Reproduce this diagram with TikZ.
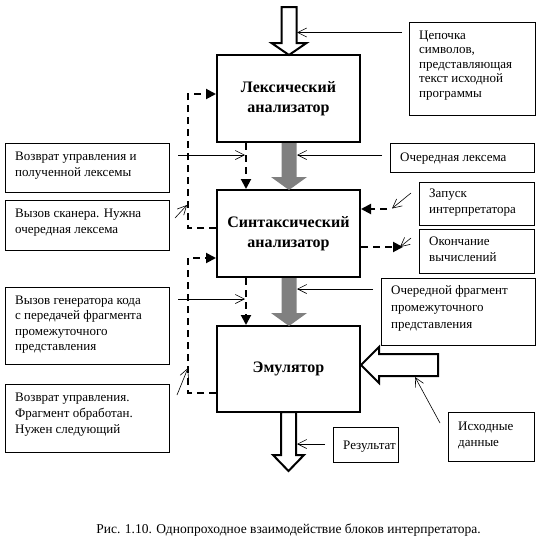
\documentclass[tikz,border=0pt]{standalone}
\usepackage{fontspec}
\setmainfont{Liberation Serif}
\usetikzlibrary{arrows.meta}
\definecolor{arrgray}{RGB}{128,128,128}
\begin{document}
\begin{tikzpicture}[x=1pt,y=-1pt,
  tframe/.style={draw, line width=0.8pt, anchor=north west, inner sep=0pt},
  ttext/.style={anchor=north west, align=left, inner sep=0pt,
    font=\fontsize{13}{16}\selectfont},
  bbox/.style={draw, line width=2pt, align=center,
    font=\bfseries\fontsize{16}{20}\selectfont},
  ptr/.style={line width=0.6pt, -{Straight Barb[length=9pt,width=9pt]}},
  dsh/.style={line width=2pt, dash pattern=on 7pt off 5pt,
    -{Triangle[length=10pt,width=10pt]}},
  hollow/.style={draw, line width=2pt, fill=white, line join=miter},
  grayarr/.style={fill=arrgray}
]
\useasboundingbox (0,0) rectangle (544,557);
\fill[white] (0,0) rectangle (544,557);

% main blocks
\node[bbox, minimum width=143pt, minimum height=87pt] (lex) at (288.5,98.5) {Лексический\\анализатор};
\node[bbox, minimum width=143pt, minimum height=87pt] (synt) at (288.5,233.5) {Синтаксический\\анализатор};
\node[bbox, minimum width=143pt, minimum height=86pt] (emu) at (288.5,369) {Эмулятор};

% hollow and gray arrows
\draw[hollow] (281.5,7) -- (296.5,7) -- (296.5,43) -- (306.5,43) -- (289,55) -- (271.5,43) -- (281.5,43) -- cycle;
\fill[grayarr] (281.5,143) -- (296.5,143) -- (296.5,177) -- (307,177) -- (289,190) -- (271,177) -- (281.5,177) -- cycle;
\fill[grayarr] (281.5,278) -- (296.5,278) -- (296.5,313) -- (307,313) -- (289,326) -- (271,313) -- (281.5,313) -- cycle;
\draw[hollow] (281,412) -- (296,412) -- (296,455) -- (304,455) -- (288.5,471) -- (273,455) -- (281,455) -- cycle;
\draw[hollow] (361,365) -- (379,347) -- (379,354) -- (438,354) -- (438,376) -- (379,376) -- (379,383) -- cycle;

% text boxes left
\node[tframe, minimum width=164pt, minimum height=49pt] (n1) at (5,143) {};
\node[ttext] (n1t) at ([shift={(10,5.8)}]n1.north west) {\strut Возврат управления и\\полученной лексемы};
\node[tframe, minimum width=164pt, minimum height=50pt] (n2) at (5,200) {};
\node[ttext] (n2t) at ([shift={(10,5.8)}]n2.north west) {\strut Вызов сканера. Нужна\\очередная лексема};
\node[tframe, minimum width=164pt, minimum height=77pt] (n3) at (5,287) {};
\node[ttext, font=\fontsize{13}{15.5}\selectfont] (n3t) at ([shift={(10,6)}]n3.north west) {\strut Вызов генератора  кода\\с передачей фрагмента\\промежуточного\\представления};
\node[tframe, minimum width=164pt, minimum height=68pt] (n4) at (5,384) {};
\node[ttext] (n4t) at ([shift={(10,6.3)}]n4.north west) {\strut Возврат управления.\\Фрагмент обработан.\\Нужен следующий};

% text boxes right
\node[tframe, minimum width=126pt, minimum height=93pt] (cep) at (409,22) {};
\node[ttext, font=\fontsize{13}{14.5}\selectfont] (cept) at ([shift={(10,6.85)}]cep.north west) {\strut Цепочка\\символов,\\представляющая\\текст исходной\\программы};
\node[tframe, minimum width=144pt, minimum height=29pt] (lexm) at (390,143) {};
\node[ttext] (lexmt) at ([shift={(10,6.8)}]lexm.north west) {\strut Очередная лексема};
\node[tframe, minimum width=115pt, minimum height=43pt] (zap) at (419,182) {};
\node[ttext] (zapt) at ([shift={(10,4.3)}]zap.north west) {\strut Запуск\\интерпретатора};
\node[tframe, minimum width=115pt, minimum height=44pt] (oko) at (419,229) {};
\node[ttext] (okot) at ([shift={(10,5.3)}]oko.north west) {\strut Окончание\\вычислений};
\node[tframe, minimum width=154pt, minimum height=67pt] (frag) at (381,278) {};
\node[ttext, font=\fontsize{13}{17}\selectfont] (fragt) at ([shift={(10,4.6)}]frag.north west) {\strut Очередной фрагмент\\промежуточного\\представления};
\node[tframe, minimum width=65pt, minimum height=35pt] (res) at (333,427) {};
\node[ttext] (rest) at ([shift={(10,10.8)}]res.north west) {\strut Результат};
\node[tframe, minimum width=86pt, minimum height=49pt] (isx) at (448,412) {};
\node[ttext] (isxt) at ([shift={(10,7.3)}]isx.north west) {\strut Исходные\\данные};

% dashed control flow
\draw[dsh] (lex.south -| 246,0) -- (synt.north -| 246,0);
\draw[dsh] (synt.south -| 246,0) -- (emu.north -| 246,0);
\draw[dsh] (synt.west |- 0,228) -- (188,228) -- (188,94) -- (lex.west |- 0,94);
\draw[dsh] (emu.west |- 0,393) -- (188,393) -- (188,258) -- (synt.west |- 0,258);
\coordinate (zs) at (387,209);
\draw[dsh] (zs) -- (synt.east |- zs);
\coordinate (oe) at (403,247);
\draw[dsh] (synt.east |- oe) -- (oe);

% pointer lines
\coordinate (p1a) at (402,32.5); \coordinate (p1b) at (297,32.5);
\draw[ptr] (p1a) -- (p1b);
\coordinate (p2a) at (382,155); \coordinate (p2b) at (297,155);
\draw[ptr] (p2a) -- (p2b);
\coordinate (p3a) at (373,289); \coordinate (p3b) at (297,289);
\draw[ptr] (p3a) -- (p3b);
\coordinate (p4a) at (325,444); \coordinate (p4b) at (297,444);
\draw[ptr] (p4a) -- (p4b);
\coordinate (p5a) at (440,423); \coordinate (p5b) at (415,377);
\draw[ptr] (p5a) -- (p5b);
\coordinate (p6a) at (411,193); \coordinate (p6b) at (392,208.5);
\draw[ptr] (p6a) -- (p6b);
\coordinate (p7a) at (411,238); \coordinate (p7b) at (400,247);
\draw[ptr] (p7a) -- (p7b);
\coordinate (p8a) at (178,155); \coordinate (p8b) at (245,155);
\draw[ptr] (p8a) -- (p8b);
\coordinate (p9a) at (175,218); \coordinate (p9b) at (187,205);
\draw[ptr] (p9a) -- (p9b);
\coordinate (p10a) at (178,299); \coordinate (p10b) at (245,299);
\draw[ptr] (p10a) -- (p10b);
\coordinate (p11a) at (177,395); \coordinate (p11b) at (188,368);
\draw[ptr] (p11a) -- (p11b);

% caption
\node[font=\fontsize{13.5}{15}\selectfont] (cap) at (288.5,530) {Рис. 1.10. Однопроходное взаимодействие блоков интерпретатора.};
\end{tikzpicture}
\end{document}
